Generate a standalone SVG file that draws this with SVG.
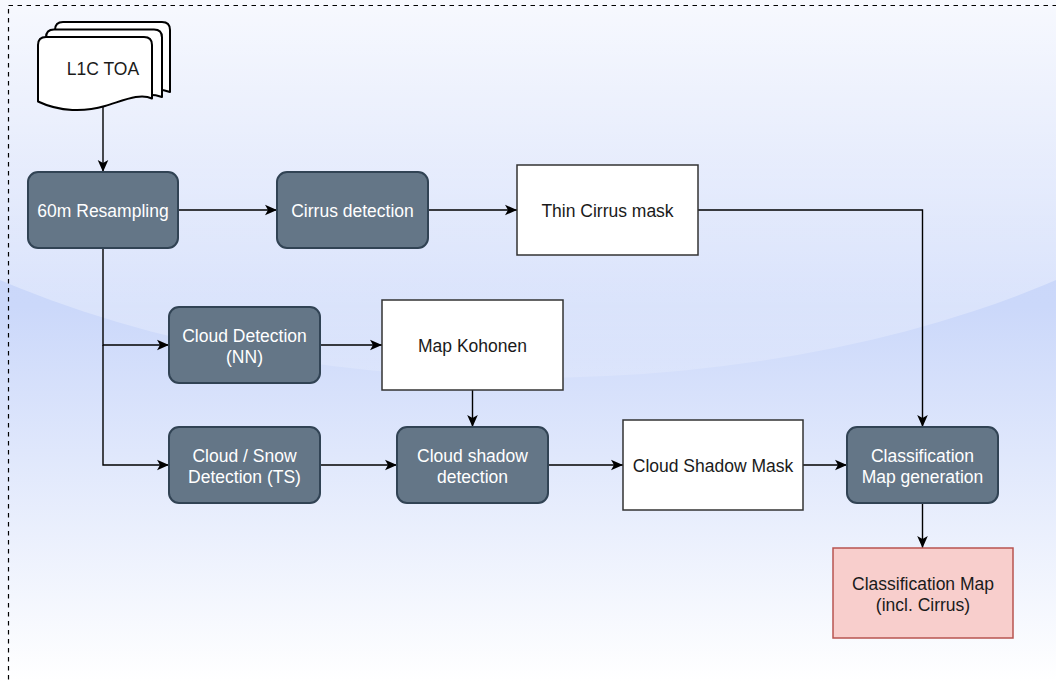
<svg xmlns="http://www.w3.org/2000/svg" width="1056" height="681" viewBox="0 0 1056 681">
  <defs>
    <linearGradient id="bgBase" x1="0" y1="0" x2="0" y2="681" gradientUnits="userSpaceOnUse">
      <stop offset="0" stop-color="#c6d3f9"/>
      <stop offset="0.45" stop-color="#cbd8fa"/>
      <stop offset="1" stop-color="#ffffff"/>
    </linearGradient>
    <linearGradient id="gloss" x1="0" y1="0" x2="0" y2="378" gradientUnits="userSpaceOnUse">
      <stop offset="0" stop-color="#ffffff" stop-opacity="0.86"/>
      <stop offset="1" stop-color="#ffffff" stop-opacity="0.16"/>
    </linearGradient>
    <marker id="arrow" markerUnits="userSpaceOnUse" viewBox="0 0 12 12" markerWidth="12" markerHeight="12" refX="12" refY="6" orient="auto">
      <path d="M0,0.7 L12,6 L0,11.3 L3,6 Z" fill="#000"/>
    </marker>
    <style>
      .proc { fill: #647687; stroke: #314354; stroke-width: 2; }
      .data { fill: #ffffff; stroke: #333333; stroke-width: 1.5; }
      .result { fill: #f8cecc; stroke: #b85450; stroke-width: 1.5; }
      .page { fill: #ffffff; stroke: #000000; stroke-width: 2; stroke-linejoin: round; }
      .lbl { font-family: "Liberation Sans", Arial, sans-serif; font-size: 17.5px; text-anchor: middle; }
      .light { fill: #ffffff; }
      .dark { fill: #1a1a1a; }
      .edge { fill: none; stroke: #000000; stroke-width: 1.4; marker-end: url(#arrow); }
    </style>
  </defs>

  <!-- background panel -->
  <g id="background">
    <rect x="0" y="0" width="1056" height="681" fill="url(#bgBase)"/>
    <ellipse cx="528" cy="-16" rx="800" ry="394" fill="url(#gloss)"/>
    <rect x="8.5" y="5.5" width="1060" height="676.5" fill="none" stroke="#000" stroke-width="1.2" stroke-dasharray="4.5 4.5"/>
  </g>

  <!-- connectors -->
  <g id="connectors">
    <path class="edge" d="M103,104 V172"/>
    <path class="edge" d="M178,210 H277"/>
    <path class="edge" d="M428,210 H517"/>
    <path class="edge" d="M698,210 H922.5 V427"/>
    <path class="edge" d="M103,248 V345 H169"/>
    <path class="edge" d="M103,345 V465 H169"/>
    <path class="edge" d="M320,345 H382"/>
    <path class="edge" d="M472.5,390 V427"/>
    <path class="edge" d="M320,465 H397"/>
    <path class="edge" d="M548,465 H623"/>
    <path class="edge" d="M803,465 H847"/>
    <path class="edge" d="M922.5,503 V548"/>
  </g>

  <!-- input product stack -->
  <g id="l1c-toa">
    <path class="page" d="M55,30 Q55,22 63,22 H162 Q170,22 170,30 V92 C160,88 146,89 125,95.5 C105,101.5 79,101.5 55,95 Z"/>
    <path class="page" d="M46,37.5 Q46,29.5 54,29.5 H154 Q162,29.5 162,37.5 V97 C152,93 138,94 117,100.5 C97,106.5 71,106.5 46,100 Z"/>
    <path class="page" d="M38,45 Q38,37 46,37 H144 Q152,37 152,45 V98.5 C140,93 125,100 105,106 C85,112 60,112 38,101.5 Z"/>
    <text class="lbl dark" x="103" y="75">L1C TOA</text>
  </g>

  <g id="resampling">
    <rect class="proc" x="28" y="172" width="150" height="76" rx="10"/>
    <text class="lbl light" x="103" y="216.5">60m Resampling</text>
  </g>

  <g id="cirrus-detection">
    <rect class="proc" x="277" y="172" width="151" height="76" rx="10"/>
    <text class="lbl light" x="352.5" y="216.5">Cirrus detection</text>
  </g>

  <g id="thin-cirrus-mask">
    <rect class="data" x="517" y="165" width="181" height="90"/>
    <text class="lbl dark" x="607.5" y="216.5">Thin Cirrus mask</text>
  </g>

  <g id="cloud-detection-nn">
    <rect class="proc" x="169" y="307" width="151" height="76" rx="10"/>
    <text class="lbl light" x="244.5" y="341.5">Cloud Detection</text>
    <text class="lbl light" x="244.5" y="362.5">(NN)</text>
  </g>

  <g id="cloud-snow-detection">
    <rect class="proc" x="169" y="427" width="151" height="76" rx="10"/>
    <text class="lbl light" x="244.5" y="461.5">Cloud / Snow</text>
    <text class="lbl light" x="244.5" y="482.5">Detection (TS)</text>
  </g>

  <g id="map-kohonen">
    <rect class="data" x="382" y="300" width="181" height="90"/>
    <text class="lbl dark" x="472.5" y="351.5">Map Kohonen</text>
  </g>

  <g id="cloud-shadow-detection">
    <rect class="proc" x="397" y="427" width="151" height="76" rx="10"/>
    <text class="lbl light" x="472.5" y="461.5">Cloud shadow</text>
    <text class="lbl light" x="472.5" y="482.5">detection</text>
  </g>

  <g id="cloud-shadow-mask">
    <rect class="data" x="623" y="420" width="180" height="90"/>
    <text class="lbl dark" x="713" y="471.5">Cloud Shadow Mask</text>
  </g>

  <g id="classification-generation">
    <rect class="proc" x="847" y="427" width="151" height="76" rx="10"/>
    <text class="lbl light" x="922.5" y="461.5">Classification</text>
    <text class="lbl light" x="922.5" y="482.5">Map generation</text>
  </g>

  <g id="classification-map">
    <rect class="result" x="833" y="548" width="180" height="90"/>
    <text class="lbl dark" x="923" y="589.5">Classification Map</text>
    <text class="lbl dark" x="923" y="610.5">(incl. Cirrus)</text>
  </g>
</svg>
